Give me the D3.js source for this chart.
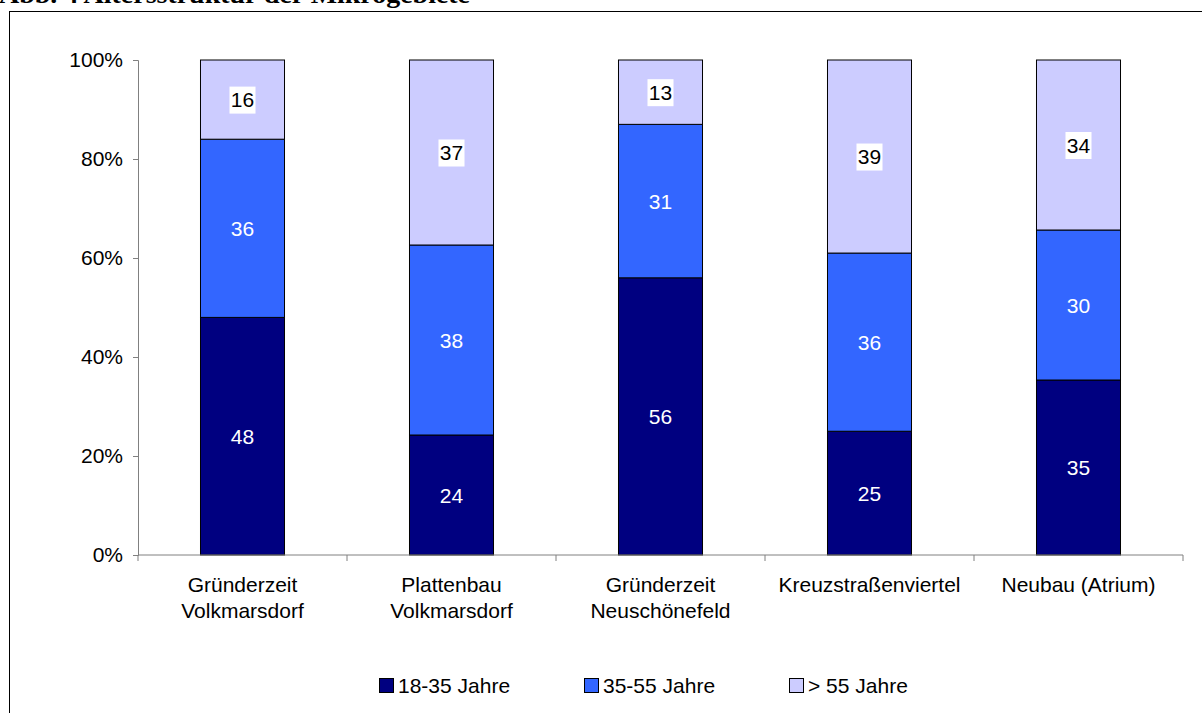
<!DOCTYPE html>
<html>
<head>
<meta charset="utf-8">
<script src="https://cdn.jsdelivr.net/npm/d3@7"></script>
<style>
  html, body { margin: 0; padding: 0; background: #fff; }
  svg { display: block; }
</style>
</head>
<body>
<svg id="chart" width="1202" height="713"></svg>
<script>
const categories = [
  ["Gründerzeit", "Volkmarsdorf"],
  ["Plattenbau", "Volkmarsdorf"],
  ["Gründerzeit", "Neuschönefeld"],
  ["Kreuzstraßenviertel"],
  ["Neubau (Atrium)"]
];
const seriesNames = ["18-35 Jahre", "35-55 Jahre", "> 55 Jahre"];
const jahre18_35 = [48, 24, 56, 25, 35];
const jahre35_55 = [36, 38, 31, 36, 30];
const jahre55plus = [16, 37, 13, 39, 34];
const yTicks = [0, 0.2, 0.4, 0.6, 0.8, 1.0];
const colors = ["#000080", "#3366FF", "#CCCCFF"];
const titleText = "Abb. 4 Altersstruktur der Mikrogebiete";

(function () {
const svg = d3.select("#chart");
const FONT = "'Liberation Sans', Arial, sans-serif";
const FS = 21;

// Title (cut off at top, as in reference)
svg.append("text")
  .attr("x", -1).attr("y", 3)
  .attr("font-family", "'Liberation Serif', 'Times New Roman', serif")
  .attr("font-weight", "bold")
  .attr("font-size", 26)
  .attr("textLength", 471)
  .attr("lengthAdjust", "spacingAndGlyphs")
  .attr("fill", "#000")
  .text(titleText);

// Outer frame
svg.append("rect")
  .attr("x", 9.5).attr("y", 11.5)
  .attr("width", 1210).attr("height", 720)
  .attr("fill", "none").attr("stroke", "#000").attr("stroke-width", 1);

const pLeft = 138, pRight = 1183, pTop = 60, pBottom = 555;
const pad = 0.598;
const x = d3.scaleBand().domain(d3.range(categories.length))
  .range([pLeft, pRight]).paddingInner(pad).paddingOuter(pad / 2);
const y = d3.scaleLinear().domain([0, 1]).range([pBottom, pTop]);

const seriesVals = [jahre18_35, jahre35_55, jahre55plus];
const rows = categories.map((c, i) => {
  const tot = seriesVals.reduce((s, arr) => s + arr[i], 0);
  const r = { i };
  seriesVals.forEach((arr, k) => { r["s" + k] = arr[i] / tot; r["v" + k] = arr[i]; });
  return r;
});
const stacked = d3.stack().keys(["s0", "s1", "s2"])(rows);

// Bars
stacked.forEach((layer, k) => {
  svg.append("g").selectAll("rect").data(layer).join("rect")
    .attr("x", (d, i) => x(i))
    .attr("width", x.bandwidth())
    .attr("y", d => y(d[1]))
    .attr("height", d => y(d[0]) - y(d[1]))
    .attr("fill", colors[k])
    .attr("stroke", "#000")
    .attr("stroke-width", 1);
});

// Axes
const yAxis = d3.axisLeft(y).tickValues(yTicks).tickFormat(d3.format(".0%"))
  .tickSize(5).tickPadding(10);
const gy = svg.append("g").attr("transform", `translate(${pLeft},0)`).call(yAxis);
gy.select(".domain").attr("stroke", "#808080");
gy.selectAll(".tick line").attr("stroke", "#808080");
gy.selectAll(".tick text").attr("font-family", FONT).attr("font-size", FS).attr("fill", "#000");

const gx = svg.append("g");
gx.append("line").attr("x1", pLeft).attr("x2", pRight).attr("y1", pBottom).attr("y2", pBottom)
  .attr("stroke", "#808080");
const step = x.step();
d3.range(categories.length + 1).forEach(j => {
  const xx = pLeft + j * step;
  gx.append("line").attr("x1", xx).attr("x2", xx).attr("y1", pBottom).attr("y2", pBottom + 6)
    .attr("stroke", "#808080");
});

// Category labels
categories.forEach((lines, i) => {
  const cx = x(i) + x.bandwidth() / 2;
  const t = svg.append("text")
    .attr("x", cx).attr("y", 592)
    .attr("text-anchor", "middle")
    .attr("font-family", FONT).attr("font-size", FS).attr("fill", "#000");
  lines.forEach((ln, j) => {
    t.append("tspan").attr("x", cx).attr("dy", j === 0 ? 0 : 26).text(ln);
  });
});

// Value labels
stacked.forEach((layer, k) => {
  layer.forEach((d, i) => {
    const cx = x(i) + x.bandwidth() / 2;
    const cy = (y(d[0]) + y(d[1])) / 2;
    const val = d.data["v" + k];
    const g = svg.append("g");
    if (k === 2) {
      g.append("rect").attr("x", cx - 13).attr("y", cy - 13).attr("width", 26).attr("height", 27)
        .attr("fill", "#fff");
    }
    g.append("text").attr("x", cx).attr("y", cy + 7.5)
      .attr("text-anchor", "middle")
      .attr("font-family", FONT).attr("font-size", FS)
      .attr("fill", k === 2 ? "#000" : "#fff")
      .text(val);
  });
});

// Legend
const legendX = [379, 584, 789];
const legendY = 685.5;
seriesNames.forEach((name, k) => {
  svg.append("rect").attr("x", legendX[k] + 0.5).attr("y", legendY - 7)
    .attr("width", 14).attr("height", 14)
    .attr("fill", colors[k]).attr("stroke", "#000");
  svg.append("text").attr("x", legendX[k] + 19).attr("y", legendY + 7.5)
    .attr("font-family", FONT).attr("font-size", FS).attr("fill", "#000")
    .text(name);
});
})();
</script>
</body>
</html>
